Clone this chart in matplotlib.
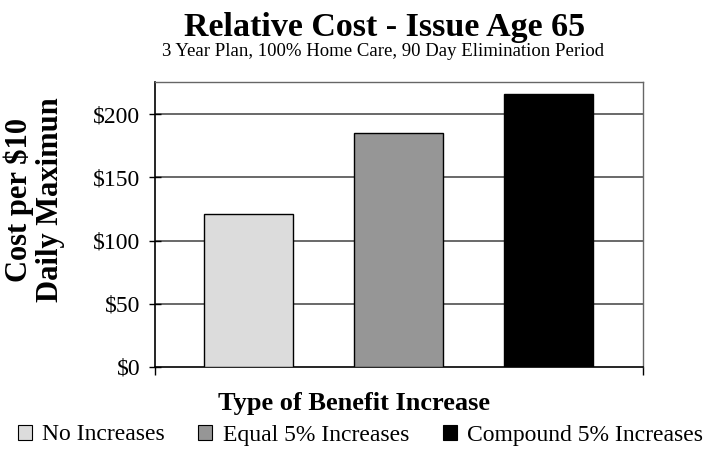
import matplotlib
matplotlib.use("Agg")
import matplotlib.pyplot as plt
from matplotlib.patches import Patch

# cost per $10 daily maximum, by type of benefit increase
series = ["No Increases", "Equal 5% Increases", "Compound 5% Increases"]
costs = [121, 185, 216]
fills = ["#dcdcdc", "#969696", "#000000"]
yticks = [0, 50, 100, 150, 200]

plt.rcParams['font.family'] = ['Liberation Serif', 'DejaVu Serif']

W, H = 710, 455
fig = plt.figure(figsize=(W / 100, H / 100), dpi=100)
ax = fig.add_axes([155 / W, 1 - 367 / H, (642.7 - 155) / W, (367 - 81.7) / H])

pos = list(range(len(series)))
ax.bar(pos, costs, width=0.597, color=fills, edgecolor="black", linewidth=1.0, zorder=3)

ax.set_xlim(-0.623, 2.627)
ax.set_ylim(0, 225.8)
ax.set_yticks(yticks)
ax.set_yticklabels(["$%d" % v for v in yticks], fontsize=17)
ax.tick_params(axis="y", direction="inout", length=9, width=1, pad=6)
ax.set_xticks([-0.623, 2.627])
ax.set_xticklabels([])
ax.tick_params(axis="x", direction="out", length=6, width=1)

for v in yticks[1:]:
    ax.axhline(v, color="#404040", linewidth=1.1, zorder=1)

for side in ("top", "right"):
    ax.spines[side].set_color("#666666")
    ax.spines[side].set_linewidth(1.0)
for side in ("left", "bottom"):
    ax.spines[side].set_color("black")
    ax.spines[side].set_linewidth(1.2)

fig.text(385 / W, 1 - 36 / H, "Relative Cost - Issue Age 65", ha="center", va="baseline",
         fontsize=24.5, fontweight="bold")
fig.text(383 / W, 1 - 56 / H, "3 Year Plan, 100% Home Care, 90 Day Elimination Period",
         ha="center", va="baseline", fontsize=13.5)
fig.text(353.5 / W, 1 - 410 / H, "Type of Benefit Increase", ha="center", va="baseline",
         fontsize=19, fontweight="bold")
fig.text(34 / W, 1 - 200 / H, "Cost per $10\nDaily Maximun", ha="center", va="center",
         rotation=90, fontsize=22, fontweight="bold", linespacing=1.1)

handles = [Patch(facecolor=c, edgecolor="black", linewidth=0.8) for c in fills]
fig.legend(handles, series, loc="center", bbox_to_anchor=(360.5 / W, 1 - 435 / H), ncol=3,
           frameon=False, fontsize=17, handlelength=0.6, handleheight=0.6,
           handletextpad=0.45, columnspacing=1.4, borderpad=0, borderaxespad=0)

fig.savefig("out.png", dpi=100)
